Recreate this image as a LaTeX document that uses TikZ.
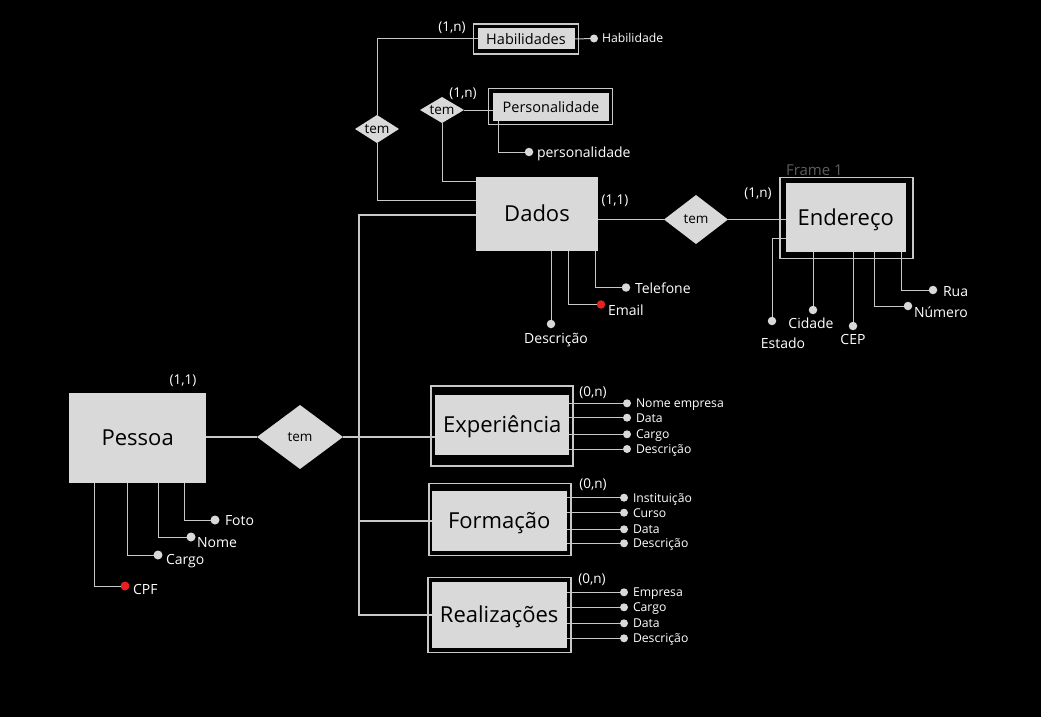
\documentclass[tikz,border=0pt]{standalone}
\usepackage{fontspec}
\setmainfont{Open Sans}
\usetikzlibrary{shapes.geometric,calc}
\definecolor{boxgray}{HTML}{D9D9D9}
\definecolor{linegray}{HTML}{C8C8C8}
\definecolor{keyred}{HTML}{E8211F}
\definecolor{framegray}{HTML}{5E5E5E}
\newcommand\fsz[1]{\fontsize{#1}{#1}\selectfont}
\begin{document}
\begin{tikzpicture}[x=1pt,y=-1pt,
  every node/.style={outer sep=0pt},
  ent/.style={rectangle, fill=boxgray, inner sep=0pt, text=black, font=\fsz{22}, text height=15.8pt, text depth=0pt},
  sent/.style={ent, font=\fsz{14.5}, text height=10.4pt},
  wbox/.style={rectangle, draw=linegray, line width=1.5pt, fill=black, inner sep=0pt},
  rel/.style={diamond, fill=boxgray, inner sep=0pt, text=black, font=\fsz{13.5}},
  adot/.style={circle, fill=boxgray, inner sep=0pt, minimum size=8.5pt},
  kdot/.style={adot, fill=keyred},
  alab/.style={text=white, font=\fsz{14}, inner sep=0pt, text height=10pt, text depth=0pt},
  slab/.style={alab, font=\fsz{12.2}, text height=8.7pt, anchor=west},
  card/.style={text=white, font=\fsz{13.5}, inner sep=0pt, text height=9.7pt, text depth=0pt},
  ln/.style={draw=linegray, line width=1pt},
  tk/.style={draw=linegray, line width=1.8pt},
]
\fill[black] (0,0) rectangle (1041,717);
\useasboundingbox (0,0) rectangle (1041,717);

% ---------- Habilidades ----------
\node[wbox, minimum width=105, minimum height=30] (habo) at (526,39) {};
\node[sent, minimum width=97, minimum height=21] (hab) at (526,39) {Habilidades};
\node[card] (c1) at (452,27) {(1,n)};
\node[adot, minimum size=8] (habd) at (594,38.5) {};
\node[slab] (habl) at (602,38.5) {Habilidade};

% ---------- Personalidade ----------
\node[wbox, minimum width=124, minimum height=36] (pero) at (550.5,106.5) {};
\node[sent, minimum width=116, minimum height=28] (per) at (551,107) {Personalidade};
\node[card] (c2) at (463,93) {(1,n)};
\node[rel, minimum width=44, minimum height=26, aspect=1.7] (r2) at (442,110) {tem};
\node[adot] (perd) at (529,152) {};
\node[alab, anchor=west] (perl) at (537,152) {personalidade};
\coordinate (perx) at (498,121);

% ---------- tem (Habilidades) ----------
\node[rel, minimum width=44, minimum height=28, aspect=1.57] (r1) at (377,129) {tem};

% ---------- Dados ----------
\node[ent, minimum width=122, minimum height=74] (dad) at (537,214) {Dados};
\node[card] (c3) at (615,200) {(1,1)};
\coordinate (d181) at (476,181);
\coordinate (d200) at (476,200);
\coordinate (d215) at (476,215);

\node[adot] (dscd) at (551,324) {};
\node[alab] (dscl) at (556,338) {Descrição};
\node[kdot] (emld) at (601,304.5) {};
\node[alab, anchor=west] (emll) at (608,310) {Email};
\coordinate (emlx) at (568.3,251);
\node[adot] (teld) at (626,287.5) {};
\node[alab, anchor=west] (tell) at (635,288) {Telefone};
\coordinate (telx) at (595,251);

% ---------- tem (Dados-Endereco) ----------
\node[rel, minimum width=64, minimum height=49, aspect=1.3] (r3) at (696,219.5) {tem};

% ---------- Endereco ----------
\node[text=framegray, font=\fsz{15}, anchor=base west, inner sep=0pt] (fr) at (786,175) {Frame 1};
\node[wbox, minimum width=133, minimum height=81] (endo) at (846.3,218) {};
\node[ent, minimum width=120, minimum height=69] (endi) at (845.7,217.8) {Endereço};
\node[card] (c4) at (758,193) {(1,n)};

\coordinate (estx) at (786,238);
\node[adot] (estd) at (772,321) {};
\node[alab] (estl) at (783,343) {Estado};
\node[adot] (cidd) at (813,310) {};
\node[alab] (cidl) at (811,323) {Cidade};
\node[adot] (cepd) at (853,326) {};
\node[alab] (cepl) at (853,339) {CEP};
\coordinate (numx) at (874,252);
\node[adot] (numd) at (908,306) {};
\node[alab, anchor=west] (numl) at (914,312) {Número};
\coordinate (ruax) at (901.7,252);
\node[adot] (ruad) at (933,290) {};
\node[alab, anchor=west] (rual) at (943,291) {Rua};

% ---------- Pessoa ----------
\node[ent, minimum width=137, minimum height=90] (pes) at (137.7,438) {Pessoa};
\node[card] (c5) at (183,380) {(1,1)};
\node[rel, minimum width=86, minimum height=64, aspect=1.34] (r4) at (300,437) {tem};

\coordinate (fotx) at (184,483);
\node[adot, minimum size=9] (fotd) at (215,520) {};
\node[alab, anchor=west] (fotl) at (225,520) {Foto};
\coordinate (nomx) at (158,483);
\node[adot, minimum size=9] (nomd) at (191,537) {};
\node[alab, anchor=west] (noml) at (197,542) {Nome};
\coordinate (carx) at (127,483);
\node[adot, minimum size=9] (card1) at (158,555) {};
\node[alab, anchor=west] (carl) at (166,559) {Cargo};
\coordinate (cpfx) at (94,483);
\node[kdot, minimum size=9] (cpfd) at (125,586) {};
\node[alab, anchor=west] (cpfl) at (133,589) {CPF};

% ---------- Experiencia ----------
\node[wbox, minimum width=142, minimum height=80] (expo) at (501.9,425.9) {};
\node[ent, minimum width=134, minimum height=60] (expi) at (502.2,425) {Experiência};
\node[card] (c6) at (593,392) {(0,n)};

% ---------- Formacao ----------
\node[wbox, minimum width=142, minimum height=72] (foro) at (499.9,519.4) {};
\node[ent, minimum width=135, minimum height=60] (fori) at (499.2,520.7) {Formação};
\node[card] (c7) at (593,484) {(0,n)};

% ---------- Realizacoes ----------
\node[wbox, minimum width=143, minimum height=75] (reao) at (499.4,614.9) {};
\node[ent, minimum width=135, minimum height=66] (reai) at (499.2,614.9) {Realizações};
\node[card] (c8) at (592,579) {(0,n)};

\coordinate (tb) at (359,615);

% ---------- attributes of weak entities ----------
\foreach \yy/\tt/\nn in {403.3/Nome empresa/ea1, 417.7/Data/ea2, 434.3/Cargo/ea3, 449/Descrição/ea4}{
  \node[adot, minimum size=8] (\nn) at (627,\yy) {};
  \node[slab] (\nn l) at (636,\yy) {\tt};
  \draw[ln] (\nn) -- (\nn -| expi.east);
}
\foreach \yy/\tt/\nn in {497.7/Instituição/fa1, 512.7/Curso/fa2, 529.3/Data/fa3, 543.3/Descrição/fa4}{
  \node[adot, minimum size=8] (\nn) at (624,\yy) {};
  \node[slab] (\nn l) at (633,\yy) {\tt};
  \draw[ln] (\nn) -- (\nn -| fori.east);
}
\foreach \yy/\tt/\nn in {592.3/Empresa/ra1, 607.3/Cargo/ra2, 623.3/Data/ra3, 638.3/Descrição/ra4}{
  \node[adot, minimum size=8] (\nn) at (624,\yy) {};
  \node[slab] (\nn l) at (633,\yy) {\tt};
  \draw[ln] (\nn) -- (\nn -| reai.east);
}

% ---------- connectors ----------
\draw[ln] (hab.west) -| (r1.north);
\draw[ln] (r1.south) |- (d200);
\draw[ln] (r2.south) |- (d181);
\draw[ln] (r2.east) -- (per.west |- r2.east);
\draw[ln] (hab.east) -- (habd);
\draw[ln] (perx) |- (perd);

\draw[ln] (dscd) -- (dscd |- dad.south);
\draw[ln] (emlx) |- (emld);
\draw[ln] (telx) |- (teld);

\draw[tk] (dad.east |- r3) -- (r3.west);
\draw[tk] (r3.east) -- (endi.west |- r3.east);

\draw[ln] (estx) -| (estd);
\draw[ln] (cidd) -- (cidd |- endi.south);
\draw[ln] (cepd) -- (cepd |- endi.south);
\draw[ln] (numx) |- (numd);
\draw[ln] (ruax) |- (ruad);

\draw[ln] (fotx) |- (fotd);
\draw[ln] (nomx) |- (nomd);
\draw[ln] (carx) |- (card1);
\draw[ln] (cpfx) |- (cpfd);

\draw[tk] (pes.east |- r4) -- (r4.west);
\draw[tk] (r4.east) -- (expi.west |- r4.east);
\draw[tk] (d215) -| (tb) -- (reai.west |- tb);
\draw[tk] (fori.west) -- (fori.west -| tb);
\end{tikzpicture}
\end{document}
